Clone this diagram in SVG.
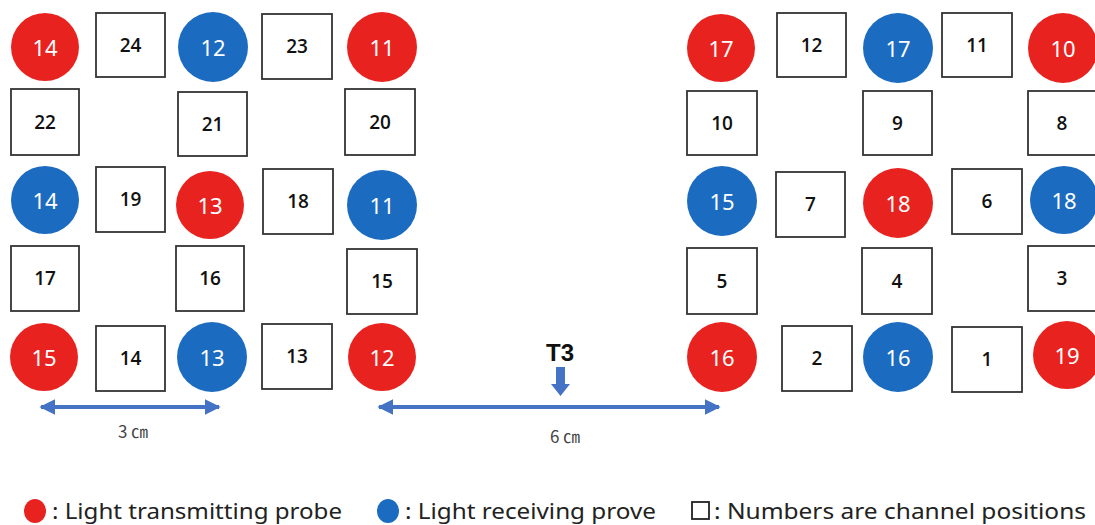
<svg xmlns="http://www.w3.org/2000/svg" width="1095" height="525" viewBox="0 0 1095 525">
<defs>
<style>
.tx{fill:#E8231F}
.rx{fill:#1B6BC0}
.ch{fill:#fff;stroke:#333;stroke-width:1.8}
.cl{font-family:"Noto Sans","Liberation Sans",sans-serif;font-size:22px;fill:#fff;text-anchor:middle;dominant-baseline:central}
.bl{font-family:"Open Sans","Noto Sans",sans-serif;font-size:19px;font-weight:600;fill:#111;text-anchor:middle;dominant-baseline:central}
.dim{stroke:#4472C4;stroke-width:4;fill:none}
.lab{font-family:"Noto Sans CJK JP",sans-serif;font-size:17px;fill:#444;text-anchor:middle}
.leg{font-family:"Noto Sans","Liberation Sans",sans-serif;font-size:22px;fill:#222}
</style>
<marker id="ah" viewBox="0 0 10 10" refX="9" refY="5" markerWidth="4" markerHeight="4" orient="auto-start-reverse" markerUnits="strokeWidth">
<path d="M0,0 L10,5 L0,10 z" fill="#4472C4"/>
</marker>
</defs>
<rect width="1095" height="525" fill="#fff"/>

<!-- Left grid -->
<g id="L-r1">
<g id="L-tx14"><circle class="tx" cx="45" cy="47" r="34"/><text class="cl" x="45" y="47">14</text></g>
<g id="L-ch24"><rect class="ch" x="96" y="13" width="69" height="64"/><text class="bl" x="130.5" y="45">24</text></g>
<g id="L-rx12"><circle class="rx" cx="213" cy="47" r="35"/><text class="cl" x="213" y="47">12</text></g>
<g id="L-ch23"><rect class="ch" x="262" y="14" width="70" height="65"/><text class="bl" x="297" y="46">23</text></g>
<g id="L-tx11"><circle class="tx" cx="382" cy="47" r="35"/><text class="cl" x="382" y="47">11</text></g>
</g>
<g id="L-r2">
<g id="L-ch22"><rect class="ch" x="11" y="89" width="68" height="66"/><text class="bl" x="45" y="122">22</text></g>
<g id="L-ch21"><rect class="ch" x="178" y="92" width="69" height="64"/><text class="bl" x="212.5" y="124">21</text></g>
<g id="L-ch20"><rect class="ch" x="345" y="89" width="70" height="66"/><text class="bl" x="380" y="122">20</text></g>
</g>
<g id="L-r3">
<g id="L-rx14"><circle class="rx" cx="45" cy="200" r="34"/><text class="cl" x="45" y="200">14</text></g>
<g id="L-ch19"><rect class="ch" x="96" y="167" width="69" height="65"/><text class="bl" x="130.5" y="199">19</text></g>
<g id="L-tx13"><circle class="tx" cx="210" cy="205" r="34"/><text class="cl" x="210" y="205">13</text></g>
<g id="L-ch18"><rect class="ch" x="263" y="169" width="70" height="65"/><text class="bl" x="298" y="201">18</text></g>
<g id="L-rx11"><circle class="rx" cx="382" cy="205" r="35"/><text class="cl" x="382" y="205">11</text></g>
</g>
<g id="L-r4">
<g id="L-ch17"><rect class="ch" x="11" y="246" width="68" height="65"/><text class="bl" x="45" y="278">17</text></g>
<g id="L-ch16"><rect class="ch" x="176" y="246" width="68" height="65"/><text class="bl" x="210" y="278">16</text></g>
<g id="L-ch15"><rect class="ch" x="347" y="249" width="70" height="65"/><text class="bl" x="382" y="281">15</text></g>
</g>
<g id="L-r5">
<g id="L-tx15"><circle class="tx" cx="44" cy="357" r="34"/><text class="cl" x="44" y="357">15</text></g>
<g id="L-ch14"><rect class="ch" x="96" y="326" width="69" height="65"/><text class="bl" x="130.5" y="358">14</text></g>
<g id="L-rx13"><circle class="rx" cx="212" cy="357" r="35"/><text class="cl" x="212" y="357">13</text></g>
<g id="L-ch13"><rect class="ch" x="262" y="324" width="70" height="65"/><text class="bl" x="297" y="356">13</text></g>
<g id="L-tx12"><circle class="tx" cx="382" cy="357" r="34"/><text class="cl" x="382" y="357">12</text></g>
</g>

<!-- Right grid -->
<g id="R-r1">
<g id="R-tx17"><circle class="tx" cx="721" cy="48" r="34"/><text class="cl" x="721" y="48">17</text></g>
<g id="R-ch12"><rect class="ch" x="777" y="13" width="69" height="64"/><text class="bl" x="811.5" y="45">12</text></g>
<g id="R-rx17"><circle class="rx" cx="898" cy="48" r="35"/><text class="cl" x="898" y="48">17</text></g>
<g id="R-ch11"><rect class="ch" x="942" y="13" width="70" height="64"/><text class="bl" x="977" y="45">11</text></g>
<g id="R-tx10"><circle class="tx" cx="1063" cy="48" r="35"/><text class="cl" x="1063" y="48">10</text></g>
</g>
<g id="R-r2">
<g id="R-ch10"><rect class="ch" x="687" y="91" width="70" height="64"/><text class="bl" x="722" y="123">10</text></g>
<g id="R-ch9"><rect class="ch" x="863" y="91" width="69" height="64"/><text class="bl" x="897.5" y="123">9</text></g>
<g id="R-ch8"><rect class="ch" x="1028" y="91" width="70" height="64"/><text class="bl" x="1062" y="123">8</text></g>
</g>
<g id="R-r3">
<g id="R-rx15"><circle class="rx" cx="722" cy="201" r="35"/><text class="cl" x="722" y="201">15</text></g>
<g id="R-ch7"><rect class="ch" x="776" y="172" width="69" height="65"/><text class="bl" x="810.5" y="204">7</text></g>
<g id="R-tx18"><circle class="tx" cx="898" cy="203" r="35"/><text class="cl" x="898" y="203">18</text></g>
<g id="R-ch6"><rect class="ch" x="952" y="169" width="70" height="65"/><text class="bl" x="987" y="201">6</text></g>
<g id="R-rx18"><circle class="rx" cx="1064" cy="200" r="34"/><text class="cl" x="1064" y="200">18</text></g>
</g>
<g id="R-r4">
<g id="R-ch5"><rect class="ch" x="687" y="248" width="70" height="66"/><text class="bl" x="722" y="281">5</text></g>
<g id="R-ch4"><rect class="ch" x="862" y="248" width="70" height="66"/><text class="bl" x="897" y="281">4</text></g>
<g id="R-ch3"><rect class="ch" x="1028" y="246" width="70" height="65"/><text class="bl" x="1062" y="278">3</text></g>
</g>
<g id="R-r5">
<g id="R-tx16"><circle class="tx" cx="722" cy="357" r="35"/><text class="cl" x="722" y="357">16</text></g>
<g id="R-ch2"><rect class="ch" x="782" y="326" width="70" height="65"/><text class="bl" x="817" y="358">2</text></g>
<g id="R-rx16"><circle class="rx" cx="898" cy="357" r="35"/><text class="cl" x="898" y="357">16</text></g>
<g id="R-ch1"><rect class="ch" x="952" y="327" width="70" height="65"/><text class="bl" x="987" y="359">1</text></g>
<g id="R-tx19"><circle class="tx" cx="1067" cy="355" r="34"/><text class="cl" x="1067" y="355">19</text></g>
</g>

<!-- Connectors / dimension arrows -->
<g id="connectors">
<line class="dim" x1="41" y1="407" x2="219" y2="407" marker-start="url(#ah)" marker-end="url(#ah)"/>
<line class="dim" x1="379" y1="407" x2="719" y2="407" marker-start="url(#ah)" marker-end="url(#ah)"/>
<path d="M556,367 H565 V384 H570 L560.5,396 L551,384 H556 Z" fill="#4472C4"/>
</g>

<g id="labels">
<text class="lab" x="133" y="438">3 ㎝</text>
<text class="lab" x="565" y="443">6 ㎝</text>
<text x="560" y="361" font-family="Liberation Sans, Arial, sans-serif" font-size="24" font-weight="bold" fill="#111" text-anchor="middle">T3</text>
</g>

<g id="legend">
<ellipse class="tx" cx="35" cy="511" rx="11" ry="12"/>
<text class="leg" x="52" y="519" textLength="290" lengthAdjust="spacingAndGlyphs">: Light transmitting probe</text>
<ellipse class="rx" cx="388" cy="511" rx="11" ry="12"/>
<text class="leg" x="405" y="519" textLength="251" lengthAdjust="spacingAndGlyphs">: Light receiving prove</text>
<rect x="692" y="502" width="17" height="17" fill="#fff" stroke="#222" stroke-width="1.8"/>
<text class="leg" x="714" y="519" textLength="372" lengthAdjust="spacingAndGlyphs">: Numbers are channel positions</text>
</g>
</svg>
